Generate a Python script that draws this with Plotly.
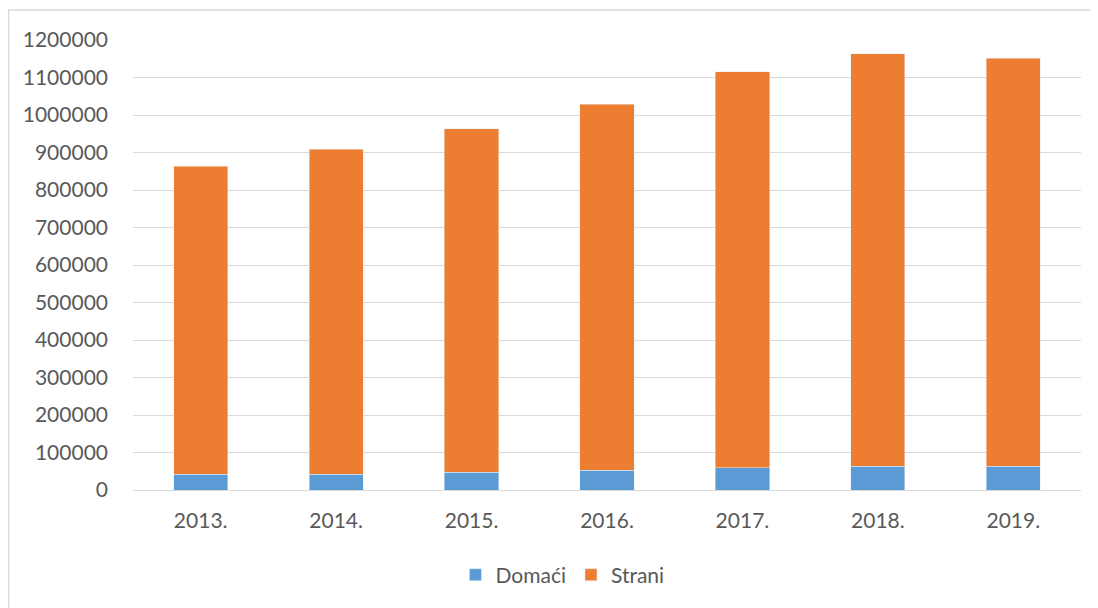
import plotly.graph_objects as go

years = ["2013.", "2014.", "2015.", "2016.", "2017.", "2018.", "2019."]
domaci = [42000, 42000, 47500, 53000, 60000, 63500, 64000]
total = [864000, 909000, 963000, 1029000, 1115000, 1163000, 1151000]
strani = [t - d for t, d in zip(total, domaci)]

fig = go.Figure()
fig.add_trace(go.Bar(x=years, y=domaci, name="Domaći", marker_color="#5B9BD5"))
fig.add_trace(go.Bar(x=years, y=strani, name="Strani", marker_color="#ED7D31"))

# chart area border (only left/top edges are visible in the original)
fig.add_shape(type="rect", xref="paper", yref="paper",
              x0=-0.1313, x1=1.2, y0=-0.6, y1=1.0667,
              line=dict(color="#D9D9D9", width=1.5), fillcolor="rgba(0,0,0,0)")

fig.update_layout(
    barmode="stack",
    bargap=0.6,
    width=1090, height=600,
    margin=dict(l=125, r=17, t=32, b=118),
    paper_bgcolor="white", plot_bgcolor="white",
    font=dict(family="Lato, Open Sans, sans-serif", size=21, color="#595959"),
    showlegend=True,
    legend=dict(orientation="h", x=0.453, xanchor="center", y=-0.189, yanchor="middle",
                font=dict(size=21, color="#595959"), traceorder="normal"),
)
fig.update_yaxes(range=[0, 1200000], dtick=100000, tickformat="d",
                 gridcolor="#D9D9D9", gridwidth=1, zeroline=False,
                 ticks="", ticklabelstandoff=24)
fig.update_xaxes(showline=True, linecolor="#D9D9D9", linewidth=1, ticks="",
                 ticklabelstandoff=12)

fig.write_html("out.html")
